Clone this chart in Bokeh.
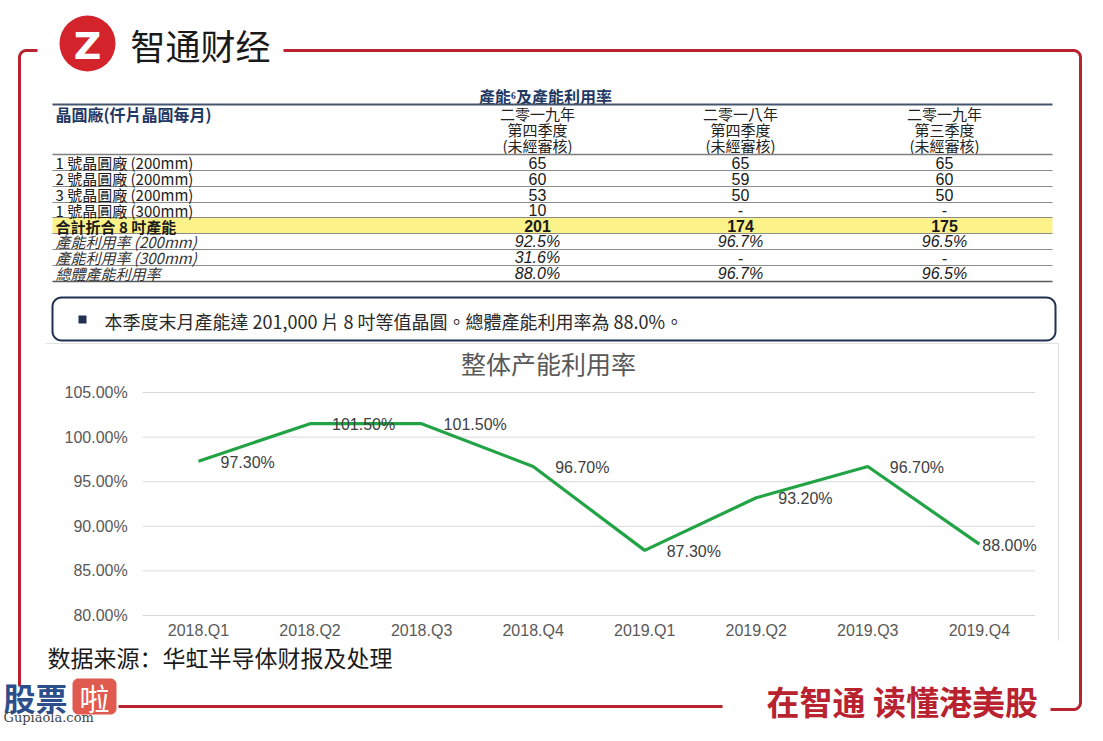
import numpy as np
from bokeh.plotting import figure
from bokeh.models import Range1d
from bokeh.core.properties import value
from bokeh.embed import file_html
from bokeh.resources import INLINE

# ---------------- data ----------------
quarters = ["2018.Q1", "2018.Q2", "2018.Q3", "2018.Q4",
            "2019.Q1", "2019.Q2", "2019.Q3", "2019.Q4"]
utilization = [97.3, 101.5, 101.5, 96.7, 87.3, 93.2, 96.7, 88.0]
data_labels = ["97.30%", "101.50%", "101.50%", "96.70%",
               "87.30%", "93.20%", "96.70%", "88.00%"]
y_ticks = [80, 85, 90, 95, 100, 105]
y_tick_labels = ["80.00%", "85.00%", "90.00%", "95.00%", "100.00%", "105.00%"]

table_title = "產能⁶及產能利用率"
table_head = "晶圓廠(仟片晶圓每月)"
col_heads = [["二零一九年", "第四季度", "(未經審核)"],
             ["二零一八年", "第四季度", "(未經審核)"],
             ["二零一九年", "第三季度", "(未經審核)"]]
row_labels = ["1 號晶圓廠 (200mm)", "2 號晶圓廠 (200mm)", "3 號晶圓廠 (200mm)",
              "1 號晶圓廠 (300mm)", "合計折合 8 吋產能", "產能利用率 (200mm)",
              "產能利用率 (300mm)", "總體產能利用率"]
q4_2019 = ["65", "60", "53", "10", "201", "92.5%", "31.6%", "88.0%"]
q4_2018 = ["65", "59", "50", "-", "174", "96.7%", "-", "96.7%"]
q3_2019 = ["65", "60", "50", "-", "175", "96.5%", "-", "96.5%"]

note_text = "本季度末月產能達 201,000 片 8 吋等值晶圓。總體產能利用率為 88.0%。"
chart_title = "整体产能利用率"
source_text = "数据来源：华虹半导体财报及处理"
brand = "智通财经"
slogan = "在智通  读懂港美股"

# ---------------- layout ----------------
W, H = 1087, 725
X0, Y0 = 0, 0          # page coordinates shown at the top-left of the canvas

p = figure(width=W, height=H, output_backend="svg", toolbar_location=None,
           x_range=Range1d(X0, X0 + W), y_range=Range1d(Y0 + H, Y0),
           x_axis_type=None, y_axis_type=None, min_border=0,
           outline_line_color=None, background_fill_color="white",
           border_fill_color="white")

RED = "#b8232f"
CJK_TC = "Noto Sans CJK TC"
CJK_SC = "Noto Sans CJK SC"
LAT = "Liberation Sans"


def txt(x, y, s, size, color="#222222", font=CJK_TC, style="normal",
        align="left", baseline="middle"):
    p.text(x=[x], y=[y], text=[s], text_font=value(font),
           text_font_size=f"{size}px", text_color=color,
           text_font_style=style, text_align=align, text_baseline=baseline)


def arc_pts(cx, cy, r, a0, a1, n=10):
    t = np.radians(np.linspace(a0, a1, n))
    return list(cx + r * np.cos(t)), list(cy + r * np.sin(t))


def rounded_rect(x0, y0, x1, y1, r):
    xs, ys = [], []
    for cx, cy, a0, a1 in [(x1 - r, y0 + r, -90, 0), (x1 - r, y1 - r, 0, 90),
                           (x0 + r, y1 - r, 90, 180), (x0 + r, y0 + r, 180, 270)]:
        ax, ay = arc_pts(cx, cy, r, a0, a1)
        xs += ax
        ys += ay
    return xs + [xs[0]], ys + [ys[0]]


# ---------- red frame ----------
ax, ay = arc_pts(26, 57, 7, -90, -180)
p.line([37] + ax + [19], [50] + ay + [686], line_color=RED, line_width=3)
ax1, ay1 = arc_pts(1073, 57, 7, -90, 0)
ax2, ay2 = arc_pts(1073, 702, 7, 0, 90)
p.line([283] + ax1 + ax2 + [1050], [50] + ay1 + ay2 + [709],
       line_color=RED, line_width=3)
p.line([118, 722], [706, 706], line_color=RED, line_width=3)

# ---------- brand logo ----------
p.circle(x=[87], y=[43], radius=28, fill_color="#d3242c", line_color=None)
txt(87, 45, "Z", 38, color="white", font="DejaVu Sans", style="bold", align="center")
txt(130, 44, brand, 35, color="#1a1a1a", font=CJK_SC)

# ---------- table ----------
col_x = [537, 740, 944]
row_y = [162, 178, 194, 209.5, 225.5, 241, 257, 273]
p.quad(left=52, right=1052, top=217, bottom=233, fill_color="#fbf28a", line_color=None)
txt(545, 95, table_title, 16, color="#1f3864", style="bold", align="center")
p.line([52, 1052], [104, 104], line_color="#44546a", line_width=2)
txt(55, 113, table_head, 16, color="#1f3864", style="bold")
for cx, heads in zip(col_x, col_heads):
    for hy, h in zip([113, 129, 145], heads):
        txt(cx, hy, h, 15, color="#222222", align="center")
p.line([52, 1052], [154, 154], line_color="#7f7f7f", line_width=1.3)
for ly in [170, 186, 202, 217, 233, 249, 265]:
    p.line([52, 1052], [ly, ly], line_color="#8c8c8c", line_width=1.2)
p.line([52, 1052], [281, 281], line_color="#595959", line_width=1.6)

styles = ["normal"] * 4 + ["bold"] + ["italic"] * 3
for i, (ry, lab, st) in enumerate(zip(row_y, row_labels, styles)):
    txt(55, ry, lab, 15, color="#1a1a1a" if st != "italic" else "#333333", style=st)
    for cx, col in zip(col_x, [q4_2019, q4_2018, q3_2019]):
        txt(cx, ry, col[i], 16, color="#1a1a1a", font=LAT, style=st, align="center")

# ---------- note box ----------
bx, by = rounded_rect(52, 297, 1055, 340, 9)
p.line(bx, by, line_color="#1f3050", line_width=2)
p.scatter(x=[82], y=[319], marker="square", size=8, fill_color="#1f3050", line_color=None)
txt(104, 320, note_text, 18, color="#2a2a2a")

# ---------- chart ----------
p.line([45, 1058, 1058], [343, 343, 640], line_color="#e3e3e3", line_width=1.2)
txt(548, 362, chart_title, 25, color="#595959", font=CJK_SC, align="center")

CX0, CDX = 198.0, 111.55      # page x of first category, category spacing
CY105, CPX = 392.0, 8.92      # page y of 105 %, pixels per percentage point
p.extra_x_ranges = {"cat": Range1d((X0 - CX0) / CDX, (X0 + W - CX0) / CDX)}
p.extra_y_ranges = {"pct": Range1d(105 - (Y0 + H - CY105) / CPX,
                                   105 - (Y0 - CY105) / CPX)}
idx = list(range(len(quarters)))
n = len(quarters)

p.segment(x0=-0.5, x1=n - 0.5, y0=y_ticks, y1=y_ticks,
          x_range_name="cat", y_range_name="pct",
          line_color="#d9d9d9", line_width=1)
p.text(x=-0.5, y=y_ticks, text=y_tick_labels, x_offset=-15,
       x_range_name="cat", y_range_name="pct",
       text_font=value(LAT), text_font_size="16px", text_color="#595959",
       text_align="right", text_baseline="middle")
p.text(x=idx, y=min(y_ticks), text=quarters, y_offset=15,
       x_range_name="cat", y_range_name="pct",
       text_font=value(LAT), text_font_size="16px", text_color="#595959",
       text_align="center", text_baseline="middle")
p.line(x=idx, y=utilization, x_range_name="cat", y_range_name="pct",
       line_color="#22a446", line_width=3.2)
p.text(x=idx, y=utilization, text=data_labels,
       x_offset=[22] * (n - 1) + [3], y_offset=1,
       x_range_name="cat", y_range_name="pct",
       text_font=value(LAT), text_font_size="16px", text_color="#404040",
       text_align="left", text_baseline="middle")

# ---------- footer ----------
txt(47, 656, source_text, 23, color="#1a1a1a", font=CJK_SC)
txt(3, 696, "股票", 32, color="#2c4f8c", font=CJK_SC, style="bold")
lx, ly = rounded_rect(72, 678, 116, 714, 6)
p.patch(lx, ly, fill_color="#e05a4f", line_color=None)
txt(94, 696, "啦", 30, color="white", font=CJK_SC, align="center")
txt(3, 717, "Gupiaola.com", 13, color="#444444", font="DejaVu Serif")
txt(1045, 700, slogan, 33, color=RED, font=CJK_SC, style="bold", align="right")

open("out.html", "w").write(file_html(p, INLINE))
